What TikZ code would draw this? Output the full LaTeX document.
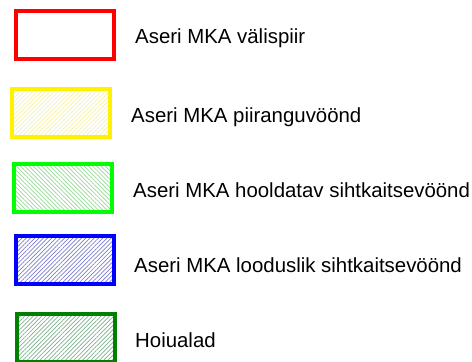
\documentclass[tikz,border=0pt]{standalone}
\usepackage{fontspec}
\setmainfont{Liberation Sans}
\usetikzlibrary{patterns.meta}
\tikzset{
  legbox/.style={draw, rectangle, line width=4pt, minimum width=98pt, minimum height=48pt, inner sep=0pt},
  legtext/.style={anchor=base west, inner sep=0pt, font=\fontsize{20.4}{24}\selectfont},
  hatchne/.style={pattern={Lines[angle=45,distance=3pt,line width=0.7pt]}},
  hatchnw/.style={pattern={Lines[angle=-45,distance=3pt,line width=0.7pt]}}
}
\definecolor{hatchyellow}{RGB}{245,240,170}
\definecolor{hatchgreen}{RGB}{150,215,150}
\definecolor{hatchblue}{RGB}{125,125,205}
\definecolor{darkgreen}{RGB}{0,128,0}
\definecolor{hatchdkgreen}{RGB}{125,175,140}
\begin{document}
\begin{tikzpicture}[x=1pt, y=-1pt]
\useasboundingbox (0,0) rectangle (472,362);
% legend boxes
\node[legbox, draw=red] (piir) at (65,35) {};
\node[legbox, draw=yellow, hatchne, pattern color=hatchyellow] (piirang) at (61,113) {};
\node[legbox, draw=green, hatchnw, pattern color=hatchgreen] (hooldatav) at (63,188) {};
\node[legbox, draw=blue, hatchne, pattern color=hatchblue] (looduslik) at (65,259.5) {};
\node[legbox, draw=darkgreen, hatchne, pattern color=hatchdkgreen] (hoiuala) at (66,338) {};
% legend texts
\node[legtext] (piirtxt) at (135,43) {Aseri MKA välispiir};
\node[legtext] (piirangtxt) at (131,122) {Aseri MKA piiranguvöönd};
\node[legtext] (hooldatavtxt) at (133,197) {Aseri MKA hooldatav sihtkaitsevöönd};
\node[legtext] (looduslikxt) at (134,272) {Aseri MKA looduslik sihtkaitsevöönd};
\node[legtext] (hoiualatxt) at (135,347) {Hoiualad};
\end{tikzpicture}
\end{document}
